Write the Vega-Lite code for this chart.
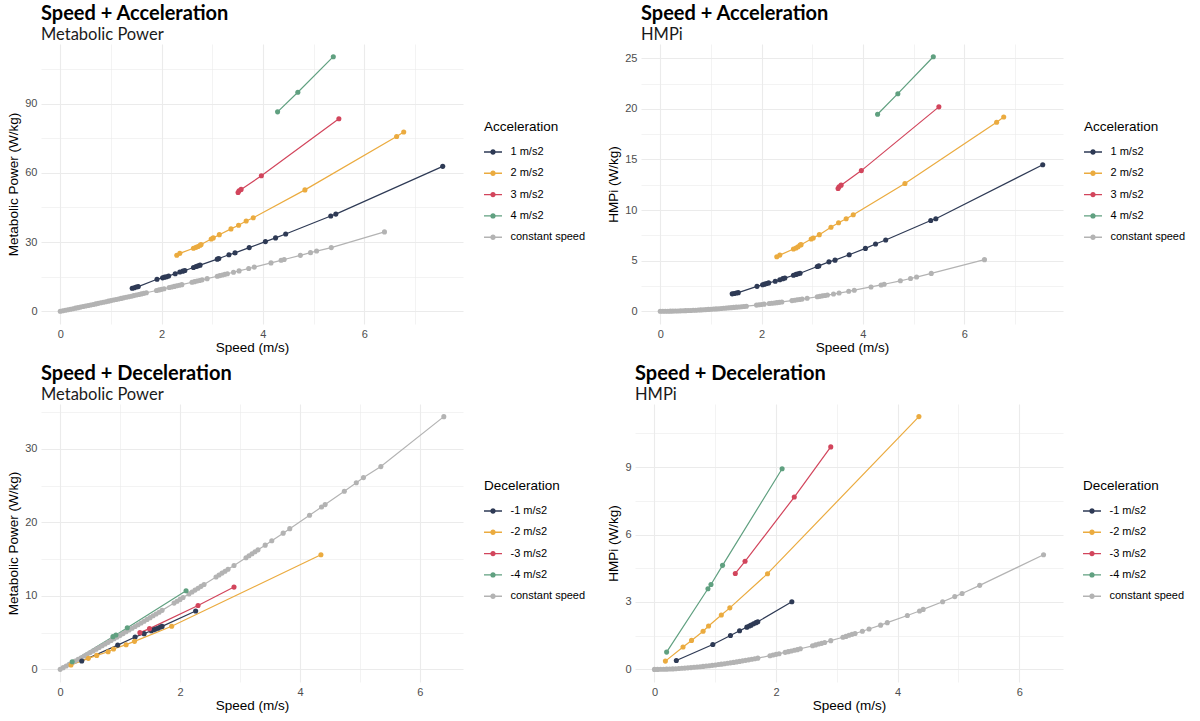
{
  "$schema": "https://vega.github.io/schema/vega-lite/v6.json",
  "background": "white",
  "padding": {"left": 6, "top": 3, "right": 5, "bottom": 5},
  "datasets": {
    "pts": [
      {"group": "const", "series": "constant speed", "speed": 0, "mp": 0, "hmpi": 0},
      {"group": "const", "series": "constant speed", "speed": 0.05, "mp": 0.23, "hmpi": 0.001},
      {"group": "const", "series": "constant speed", "speed": 0.1, "mp": 0.45, "hmpi": 0.004},
      {"group": "const", "series": "constant speed", "speed": 0.15, "mp": 0.68, "hmpi": 0.007},
      {"group": "const", "series": "constant speed", "speed": 0.2, "mp": 0.91, "hmpi": 0.012},
      {"group": "const", "series": "constant speed", "speed": 0.25, "mp": 1.13, "hmpi": 0.017},
      {"group": "const", "series": "constant speed", "speed": 0.3, "mp": 1.36, "hmpi": 0.024},
      {"group": "const", "series": "constant speed", "speed": 0.35, "mp": 1.59, "hmpi": 0.032},
      {"group": "const", "series": "constant speed", "speed": 0.4, "mp": 1.82, "hmpi": 0.04},
      {"group": "const", "series": "constant speed", "speed": 0.45, "mp": 2.05, "hmpi": 0.049},
      {"group": "const", "series": "constant speed", "speed": 0.5, "mp": 2.28, "hmpi": 0.059},
      {"group": "const", "series": "constant speed", "speed": 0.55, "mp": 2.51, "hmpi": 0.07},
      {"group": "const", "series": "constant speed", "speed": 0.6, "mp": 2.75, "hmpi": 0.081},
      {"group": "const", "series": "constant speed", "speed": 0.65, "mp": 2.98, "hmpi": 0.093},
      {"group": "const", "series": "constant speed", "speed": 0.7, "mp": 3.21, "hmpi": 0.106},
      {"group": "const", "series": "constant speed", "speed": 0.75, "mp": 3.45, "hmpi": 0.12},
      {"group": "const", "series": "constant speed", "speed": 0.8, "mp": 3.68, "hmpi": 0.134},
      {"group": "const", "series": "constant speed", "speed": 0.85, "mp": 3.92, "hmpi": 0.149},
      {"group": "const", "series": "constant speed", "speed": 0.9, "mp": 4.16, "hmpi": 0.165},
      {"group": "const", "series": "constant speed", "speed": 0.95, "mp": 4.39, "hmpi": 0.181},
      {"group": "const", "series": "constant speed", "speed": 1.0, "mp": 4.63, "hmpi": 0.198},
      {"group": "const", "series": "constant speed", "speed": 1.05, "mp": 4.87, "hmpi": 0.216},
      {"group": "const", "series": "constant speed", "speed": 1.1, "mp": 5.11, "hmpi": 0.234},
      {"group": "const", "series": "constant speed", "speed": 1.15, "mp": 5.35, "hmpi": 0.253},
      {"group": "const", "series": "constant speed", "speed": 1.2, "mp": 5.59, "hmpi": 0.272},
      {"group": "const", "series": "constant speed", "speed": 1.25, "mp": 5.83, "hmpi": 0.293},
      {"group": "const", "series": "constant speed", "speed": 1.3, "mp": 6.07, "hmpi": 0.313},
      {"group": "const", "series": "constant speed", "speed": 1.35, "mp": 6.31, "hmpi": 0.335},
      {"group": "const", "series": "constant speed", "speed": 1.4, "mp": 6.55, "hmpi": 0.357},
      {"group": "const", "series": "constant speed", "speed": 1.45, "mp": 6.8, "hmpi": 0.38},
      {"group": "const", "series": "constant speed", "speed": 1.5, "mp": 7.04, "hmpi": 0.403},
      {"group": "const", "series": "constant speed", "speed": 1.55, "mp": 7.29, "hmpi": 0.426},
      {"group": "const", "series": "constant speed", "speed": 1.6, "mp": 7.53, "hmpi": 0.451},
      {"group": "const", "series": "constant speed", "speed": 1.65, "mp": 7.78, "hmpi": 0.476},
      {"group": "const", "series": "constant speed", "speed": 1.7, "mp": 8.03, "hmpi": 0.501},
      {"group": "const", "series": "constant speed", "speed": 1.9, "mp": 9.02, "hmpi": 0.61},
      {"group": "const", "series": "constant speed", "speed": 1.95, "mp": 9.27, "hmpi": 0.64},
      {"group": "const", "series": "constant speed", "speed": 2.0, "mp": 9.52, "hmpi": 0.67},
      {"group": "const", "series": "constant speed", "speed": 2.05, "mp": 9.78, "hmpi": 0.7},
      {"group": "const", "series": "constant speed", "speed": 2.15, "mp": 10.28, "hmpi": 0.76},
      {"group": "const", "series": "constant speed", "speed": 2.2, "mp": 10.53, "hmpi": 0.79},
      {"group": "const", "series": "constant speed", "speed": 2.25, "mp": 10.79, "hmpi": 0.82},
      {"group": "const", "series": "constant speed", "speed": 2.3, "mp": 11.04, "hmpi": 0.85},
      {"group": "const", "series": "constant speed", "speed": 2.35, "mp": 11.3, "hmpi": 0.88},
      {"group": "const", "series": "constant speed", "speed": 2.4, "mp": 11.55, "hmpi": 0.92},
      {"group": "const", "series": "constant speed", "speed": 2.6, "mp": 12.58, "hmpi": 1.05},
      {"group": "const", "series": "constant speed", "speed": 2.65, "mp": 12.84, "hmpi": 1.09},
      {"group": "const", "series": "constant speed", "speed": 2.7, "mp": 13.1, "hmpi": 1.13},
      {"group": "const", "series": "constant speed", "speed": 2.75, "mp": 13.36, "hmpi": 1.16},
      {"group": "const", "series": "constant speed", "speed": 2.8, "mp": 13.62, "hmpi": 1.2},
      {"group": "const", "series": "constant speed", "speed": 2.9, "mp": 14.14, "hmpi": 1.28},
      {"group": "const", "series": "constant speed", "speed": 3.1, "mp": 15.2, "hmpi": 1.43},
      {"group": "const", "series": "constant speed", "speed": 3.15, "mp": 15.47, "hmpi": 1.47},
      {"group": "const", "series": "constant speed", "speed": 3.2, "mp": 15.73, "hmpi": 1.52},
      {"group": "const", "series": "constant speed", "speed": 3.25, "mp": 16.0, "hmpi": 1.56},
      {"group": "const", "series": "constant speed", "speed": 3.3, "mp": 16.27, "hmpi": 1.6},
      {"group": "const", "series": "constant speed", "speed": 3.42, "mp": 16.91, "hmpi": 1.7},
      {"group": "const", "series": "constant speed", "speed": 3.53, "mp": 17.51, "hmpi": 1.8},
      {"group": "const", "series": "constant speed", "speed": 3.72, "mp": 18.54, "hmpi": 1.97},
      {"group": "const", "series": "constant speed", "speed": 3.83, "mp": 19.15, "hmpi": 2.08},
      {"group": "const", "series": "constant speed", "speed": 4.16, "mp": 20.97, "hmpi": 2.4},
      {"group": "const", "series": "constant speed", "speed": 4.36, "mp": 22.09, "hmpi": 2.6},
      {"group": "const", "series": "constant speed", "speed": 4.42, "mp": 22.43, "hmpi": 2.67},
      {"group": "const", "series": "constant speed", "speed": 4.74, "mp": 24.25, "hmpi": 3.01},
      {"group": "const", "series": "constant speed", "speed": 4.94, "mp": 25.4, "hmpi": 3.24},
      {"group": "const", "series": "constant speed", "speed": 5.06, "mp": 26.1, "hmpi": 3.38},
      {"group": "const", "series": "constant speed", "speed": 5.35, "mp": 27.6, "hmpi": 3.74},
      {"group": "const", "series": "constant speed", "speed": 6.4, "mp": 34.4, "hmpi": 5.1},

      {"group": "acc", "series": "1 m/s2", "speed": 1.42, "mp": 10.0, "hmpi": 1.72},
      {"group": "acc", "series": "1 m/s2", "speed": 1.46, "mp": 10.2, "hmpi": 1.76},
      {"group": "acc", "series": "1 m/s2", "speed": 1.5, "mp": 10.5, "hmpi": 1.8},
      {"group": "acc", "series": "1 m/s2", "speed": 1.54, "mp": 10.7, "hmpi": 1.84},
      {"group": "acc", "series": "1 m/s2", "speed": 1.91, "mp": 13.9, "hmpi": 2.46},
      {"group": "acc", "series": "1 m/s2", "speed": 2.02, "mp": 14.5, "hmpi": 2.62},
      {"group": "acc", "series": "1 m/s2", "speed": 2.06, "mp": 14.8, "hmpi": 2.68},
      {"group": "acc", "series": "1 m/s2", "speed": 2.1, "mp": 15.0, "hmpi": 2.74},
      {"group": "acc", "series": "1 m/s2", "speed": 2.14, "mp": 15.3, "hmpi": 2.8},
      {"group": "acc", "series": "1 m/s2", "speed": 2.27, "mp": 16.3, "hmpi": 2.96},
      {"group": "acc", "series": "1 m/s2", "speed": 2.36, "mp": 17.0, "hmpi": 3.12},
      {"group": "acc", "series": "1 m/s2", "speed": 2.42, "mp": 17.4, "hmpi": 3.22},
      {"group": "acc", "series": "1 m/s2", "speed": 2.46, "mp": 17.7, "hmpi": 3.28},
      {"group": "acc", "series": "1 m/s2", "speed": 2.63, "mp": 19.0, "hmpi": 3.56},
      {"group": "acc", "series": "1 m/s2", "speed": 2.68, "mp": 19.4, "hmpi": 3.64},
      {"group": "acc", "series": "1 m/s2", "speed": 2.72, "mp": 19.7, "hmpi": 3.7},
      {"group": "acc", "series": "1 m/s2", "speed": 2.76, "mp": 20.0, "hmpi": 3.76},
      {"group": "acc", "series": "1 m/s2", "speed": 3.1, "mp": 22.6, "hmpi": 4.42},
      {"group": "acc", "series": "1 m/s2", "speed": 3.13, "mp": 22.9, "hmpi": 4.48},
      {"group": "acc", "series": "1 m/s2", "speed": 3.33, "mp": 24.5, "hmpi": 4.88},
      {"group": "acc", "series": "1 m/s2", "speed": 3.45, "mp": 25.3, "hmpi": 5.05},
      {"group": "acc", "series": "1 m/s2", "speed": 3.73, "mp": 27.6, "hmpi": 5.58},
      {"group": "acc", "series": "1 m/s2", "speed": 4.05, "mp": 30.2, "hmpi": 6.21},
      {"group": "acc", "series": "1 m/s2", "speed": 4.25, "mp": 31.8, "hmpi": 6.64},
      {"group": "acc", "series": "1 m/s2", "speed": 4.45, "mp": 33.5, "hmpi": 7.04},
      {"group": "acc", "series": "1 m/s2", "speed": 5.34, "mp": 41.3, "hmpi": 8.97},
      {"group": "acc", "series": "1 m/s2", "speed": 5.44, "mp": 42.1, "hmpi": 9.14},
      {"group": "acc", "series": "1 m/s2", "speed": 7.55, "mp": 62.8, "hmpi": 14.48},

      {"group": "acc", "series": "2 m/s2", "speed": 2.3, "mp": 24.3, "hmpi": 5.38},
      {"group": "acc", "series": "2 m/s2", "speed": 2.36, "mp": 25.1, "hmpi": 5.55},
      {"group": "acc", "series": "2 m/s2", "speed": 2.63, "mp": 27.3, "hmpi": 6.15},
      {"group": "acc", "series": "2 m/s2", "speed": 2.68, "mp": 27.7, "hmpi": 6.25},
      {"group": "acc", "series": "2 m/s2", "speed": 2.72, "mp": 28.1, "hmpi": 6.38},
      {"group": "acc", "series": "2 m/s2", "speed": 2.76, "mp": 28.6, "hmpi": 6.55},
      {"group": "acc", "series": "2 m/s2", "speed": 2.78, "mp": 28.9, "hmpi": 6.58},
      {"group": "acc", "series": "2 m/s2", "speed": 2.98, "mp": 31.3, "hmpi": 7.14},
      {"group": "acc", "series": "2 m/s2", "speed": 3.02, "mp": 31.8, "hmpi": 7.24},
      {"group": "acc", "series": "2 m/s2", "speed": 3.14, "mp": 33.2, "hmpi": 7.57},
      {"group": "acc", "series": "2 m/s2", "speed": 3.37, "mp": 35.7, "hmpi": 8.3},
      {"group": "acc", "series": "2 m/s2", "speed": 3.52, "mp": 37.3, "hmpi": 8.74},
      {"group": "acc", "series": "2 m/s2", "speed": 3.67, "mp": 39.1, "hmpi": 9.14},
      {"group": "acc", "series": "2 m/s2", "speed": 3.81, "mp": 40.5, "hmpi": 9.53},
      {"group": "acc", "series": "2 m/s2", "speed": 4.83, "mp": 52.6, "hmpi": 12.62},
      {"group": "acc", "series": "2 m/s2", "speed": 6.64, "mp": 75.7, "hmpi": 18.67},
      {"group": "acc", "series": "2 m/s2", "speed": 6.78, "mp": 77.7, "hmpi": 19.2},

      {"group": "acc", "series": "3 m/s2", "speed": 3.51, "mp": 51.5, "hmpi": 12.13},
      {"group": "acc", "series": "3 m/s2", "speed": 3.53, "mp": 52.2, "hmpi": 12.3},
      {"group": "acc", "series": "3 m/s2", "speed": 3.57, "mp": 52.8, "hmpi": 12.46},
      {"group": "acc", "series": "3 m/s2", "speed": 3.97, "mp": 58.7, "hmpi": 13.9},
      {"group": "acc", "series": "3 m/s2", "speed": 5.5, "mp": 83.4, "hmpi": 20.2},

      {"group": "acc", "series": "4 m/s2", "speed": 4.29, "mp": 86.4, "hmpi": 19.47},
      {"group": "acc", "series": "4 m/s2", "speed": 4.69, "mp": 94.9, "hmpi": 21.5},
      {"group": "acc", "series": "4 m/s2", "speed": 5.39, "mp": 110.3, "hmpi": 25.15},

      {"group": "dec", "series": "-1 m/s2", "speed": 0.36, "mp": 1.13, "hmpi": 0.4},
      {"group": "dec", "series": "-1 m/s2", "speed": 0.96, "mp": 3.3, "hmpi": 1.11},
      {"group": "dec", "series": "-1 m/s2", "speed": 1.25, "mp": 4.4, "hmpi": 1.51},
      {"group": "dec", "series": "-1 m/s2", "speed": 1.4, "mp": 4.86, "hmpi": 1.72},
      {"group": "dec", "series": "-1 m/s2", "speed": 1.52, "mp": 5.25, "hmpi": 1.88},
      {"group": "dec", "series": "-1 m/s2", "speed": 1.56, "mp": 5.4, "hmpi": 1.93},
      {"group": "dec", "series": "-1 m/s2", "speed": 1.59, "mp": 5.5, "hmpi": 1.97},
      {"group": "dec", "series": "-1 m/s2", "speed": 1.63, "mp": 5.6, "hmpi": 2.03},
      {"group": "dec", "series": "-1 m/s2", "speed": 1.67, "mp": 5.75, "hmpi": 2.08},
      {"group": "dec", "series": "-1 m/s2", "speed": 1.7, "mp": 5.85, "hmpi": 2.12},
      {"group": "dec", "series": "-1 m/s2", "speed": 2.26, "mp": 7.94, "hmpi": 3.01},

      {"group": "dec", "series": "-2 m/s2", "speed": 0.18, "mp": 0.59, "hmpi": 0.37},
      {"group": "dec", "series": "-2 m/s2", "speed": 0.47, "mp": 1.5, "hmpi": 1.0},
      {"group": "dec", "series": "-2 m/s2", "speed": 0.61, "mp": 1.9, "hmpi": 1.29},
      {"group": "dec", "series": "-2 m/s2", "speed": 0.8, "mp": 2.4, "hmpi": 1.7},
      {"group": "dec", "series": "-2 m/s2", "speed": 0.89, "mp": 2.77, "hmpi": 1.93},
      {"group": "dec", "series": "-2 m/s2", "speed": 1.1, "mp": 3.36, "hmpi": 2.42},
      {"group": "dec", "series": "-2 m/s2", "speed": 1.24, "mp": 3.81, "hmpi": 2.74},
      {"group": "dec", "series": "-2 m/s2", "speed": 1.86, "mp": 5.86, "hmpi": 4.26},
      {"group": "dec", "series": "-2 m/s2", "speed": 4.35, "mp": 15.6, "hmpi": 11.25},

      {"group": "dec", "series": "-3 m/s2", "speed": 1.33, "mp": 5.0, "hmpi": 4.27},
      {"group": "dec", "series": "-3 m/s2", "speed": 1.49, "mp": 5.54, "hmpi": 4.81},
      {"group": "dec", "series": "-3 m/s2", "speed": 2.3, "mp": 8.7, "hmpi": 7.67},
      {"group": "dec", "series": "-3 m/s2", "speed": 2.9, "mp": 11.2, "hmpi": 9.9},

      {"group": "dec", "series": "-4 m/s2", "speed": 0.2, "mp": 1.04, "hmpi": 0.77},
      {"group": "dec", "series": "-4 m/s2", "speed": 0.88, "mp": 4.45, "hmpi": 3.59},
      {"group": "dec", "series": "-4 m/s2", "speed": 0.93, "mp": 4.68, "hmpi": 3.78},
      {"group": "dec", "series": "-4 m/s2", "speed": 1.12, "mp": 5.67, "hmpi": 4.63},
      {"group": "dec", "series": "-4 m/s2", "speed": 2.1, "mp": 10.7, "hmpi": 8.93}
    ]
  },
  "vconcat": [
    {
      "hconcat": [
        {
          "title": {"text": "Speed + Acceleration", "subtitle": "Metabolic Power"},
          "width": 422,
          "height": 280,
          "data": {"name": "pts"},
          "transform": [{"filter": "datum.group !== 'dec'"}],
          "encoding": {
            "x": {
              "field": "speed", "type": "quantitative", "title": "Speed (m/s)",
              "scale": {"domain": [-0.38, 7.95], "nice": false, "zero": false},
              "axis": {
                "values": [0, 1, 2, 3, 4, 5, 6, 7],
                "labelExpr": "datum.value % 2 === 0 ? datum.label : ''",
                "gridWidth": {"condition": {"test": "datum.value % 2 === 0", "value": 1.1}, "value": 0.6}
              }
            },
            "y": {
              "field": "mp", "type": "quantitative", "title": "Metabolic Power (W/kg)",
              "scale": {"domain": [-5.5, 115.8], "nice": false, "zero": false},
              "axis": {
                "values": [0, 15, 30, 45, 60, 75, 90, 105],
                "labelExpr": "datum.value % 30 === 0 ? datum.label : ''",
                "gridWidth": {"condition": {"test": "datum.value % 30 === 0", "value": 1.1}, "value": 0.6}
              }
            },
            "color": {
              "field": "series", "type": "nominal", "title": "Acceleration",
              "scale": {"domain": ["1 m/s2", "2 m/s2", "3 m/s2", "4 m/s2", "constant speed"], "range": ["#2E3A55", "#EBAB3F", "#D2455C", "#60A080", "#B3B3B3"]},
              "legend": {"orient": "none", "legendX": 443, "legendY": 76}
            }
          },
          "layer": [
            {"mark": {"type": "line", "strokeWidth": 1.2}},
            {"mark": {"type": "point", "filled": true, "size": 26, "opacity": 1}}
          ]
        },
        {
          "title": {"text": "Speed + Acceleration", "subtitle": "HMPi"},
          "width": 422,
          "height": 280,
          "data": {"name": "pts"},
          "transform": [{"filter": "datum.group !== 'dec'"}],
          "encoding": {
            "x": {
              "field": "speed", "type": "quantitative", "title": "Speed (m/s)",
              "scale": {"domain": [-0.38, 7.95], "nice": false, "zero": false},
              "axis": {
                "values": [0, 1, 2, 3, 4, 5, 6, 7],
                "labelExpr": "datum.value % 2 === 0 ? datum.label : ''",
                "gridWidth": {"condition": {"test": "datum.value % 2 === 0", "value": 1.1}, "value": 0.6}
              }
            },
            "y": {
              "field": "hmpi", "type": "quantitative", "title": "HMPi (W/kg)",
              "scale": {"domain": [-1.26, 26.41], "nice": false, "zero": false},
              "axis": {
                "values": [0, 2.5, 5, 7.5, 10, 12.5, 15, 17.5, 20, 22.5, 25],
                "labelExpr": "datum.value % 5 === 0 ? datum.label : ''",
                "gridWidth": {"condition": {"test": "datum.value % 5 === 0", "value": 1.1}, "value": 0.6}
              }
            },
            "color": {
              "field": "series", "type": "nominal", "title": "Acceleration",
              "scale": {"domain": ["1 m/s2", "2 m/s2", "3 m/s2", "4 m/s2", "constant speed"], "range": ["#2E3A55", "#EBAB3F", "#D2455C", "#60A080", "#B3B3B3"]},
              "legend": {"orient": "none", "legendX": 443, "legendY": 76}
            }
          },
          "layer": [
            {"mark": {"type": "line", "strokeWidth": 1.2}},
            {"mark": {"type": "point", "filled": true, "size": 26, "opacity": 1}}
          ]
        }
      ],
      "spacing": 20,
      "resolve": {"scale": {"color": "independent"}}
    },
    {
      "hconcat": [
        {
          "title": {"text": "Speed + Deceleration", "subtitle": "Metabolic Power"},
          "width": 422,
          "height": 278,
          "data": {"name": "pts"},
          "transform": [{"filter": "datum.group !== 'acc'"}],
          "encoding": {
            "x": {
              "field": "speed", "type": "quantitative", "title": "Speed (m/s)",
              "scale": {"domain": [-0.32, 6.72], "nice": false, "zero": false},
              "axis": {
                "values": [0, 1, 2, 3, 4, 5, 6],
                "labelExpr": "datum.value % 2 === 0 ? datum.label : ''",
                "gridWidth": {"condition": {"test": "datum.value % 2 === 0", "value": 1.1}, "value": 0.6}
              }
            },
            "y": {
              "field": "mp", "type": "quantitative", "title": "Metabolic Power (W/kg)",
              "scale": {"domain": [-1.72, 36.12], "nice": false, "zero": false},
              "axis": {
                "values": [0, 5, 10, 15, 20, 25, 30, 35],
                "labelExpr": "datum.value % 10 === 0 ? datum.label : ''",
                "gridWidth": {"condition": {"test": "datum.value % 10 === 0", "value": 1.1}, "value": 0.6}
              }
            },
            "color": {
              "field": "series", "type": "nominal", "title": "Deceleration",
              "scale": {"domain": ["-1 m/s2", "-2 m/s2", "-3 m/s2", "-4 m/s2", "constant speed"], "range": ["#2E3A55", "#EBAB3F", "#D2455C", "#60A080", "#B3B3B3"]},
              "legend": {"orient": "none", "legendX": 443, "legendY": 75}
            }
          },
          "layer": [
            {"mark": {"type": "line", "strokeWidth": 1.2}},
            {"mark": {"type": "point", "filled": true, "size": 26, "opacity": 1}}
          ]
        },
        {
          "title": {"text": "Speed + Deceleration", "subtitle": "HMPi"},
          "width": 428,
          "height": 278,
          "data": {"name": "pts"},
          "transform": [{"filter": "datum.group !== 'acc'"}],
          "encoding": {
            "x": {
              "field": "speed", "type": "quantitative", "title": "Speed (m/s)",
              "scale": {"domain": [-0.32, 6.72], "nice": false, "zero": false},
              "axis": {
                "values": [0, 1, 2, 3, 4, 5, 6],
                "labelExpr": "datum.value % 2 === 0 ? datum.label : ''",
                "gridWidth": {"condition": {"test": "datum.value % 2 === 0", "value": 1.1}, "value": 0.6}
              }
            },
            "y": {
              "field": "hmpi", "type": "quantitative", "title": "HMPi (W/kg)",
              "scale": {"domain": [-0.56, 11.81], "nice": false, "zero": false},
              "axis": {
                "values": [0, 1.5, 3, 4.5, 6, 7.5, 9, 10.5],
                "labelExpr": "datum.value % 3 === 0 ? datum.label : ''",
                "gridWidth": {"condition": {"test": "datum.value % 3 === 0", "value": 1.1}, "value": 0.6}
              }
            },
            "color": {
              "field": "series", "type": "nominal", "title": "Deceleration",
              "scale": {"domain": ["-1 m/s2", "-2 m/s2", "-3 m/s2", "-4 m/s2", "constant speed"], "range": ["#2E3A55", "#EBAB3F", "#D2455C", "#60A080", "#B3B3B3"]},
              "legend": {"orient": "none", "legendX": 448, "legendY": 75}
            }
          },
          "layer": [
            {"mark": {"type": "line", "strokeWidth": 1.2}},
            {"mark": {"type": "point", "filled": true, "size": 26, "opacity": 1}}
          ]
        }
      ],
      "spacing": 20,
      "resolve": {"scale": {"color": "independent"}}
    }
  ],
  "spacing": 9,
  "resolve": {"scale": {"color": "independent"}},
  "config": {
    "view": {"stroke": null},
    "title": {
      "anchor": "start", "frame": "group", "font": "Lato", "fontSize": 20, "fontWeight": "bold", "color": "#000000",
      "subtitleFont": "Lato", "subtitleFontSize": 16.5, "subtitleColor": "#1a1a1a", "subtitlePadding": 0, "offset": 1
    },
    "axis": {
      "domain": false, "ticks": false, "gridColor": "#EBEBEB",
      "labelFont": "Liberation Sans", "labelFontSize": 11, "labelColor": "#4D4D4D", "labelPadding": 4,
      "titleFont": "Liberation Sans", "titleFontSize": 13.5, "titleFontWeight": "normal", "titleColor": "#000000"
    },
    "axisX": {"titlePadding": 1.5},
    "axisY": {"titlePadding": 4},
    "legend": {
      "titleFont": "Liberation Sans", "titleFontSize": 13.5, "titleFontWeight": "normal", "titleColor": "#000000", "titlePadding": 9.5,
      "labelFont": "Liberation Sans", "labelFontSize": 11, "labelColor": "#000000", "labelOffset": 8.5,
      "symbolType": "M -1 -0.08 L 1 -0.08 L 1 0.08 L -1 0.08 Z M 0.3 0 A 0.3 0.3 0 1 1 -0.3 0 A 0.3 0.3 0 1 1 0.3 0 Z",
      "symbolSize": 324, "symbolStrokeWidth": 0, "symbolOpacity": 1, "rowPadding": 7.3
    }
  }
}
